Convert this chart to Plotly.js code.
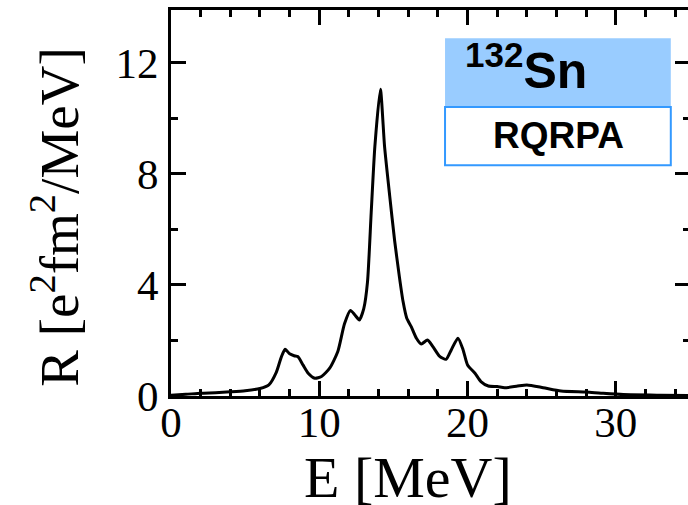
<!DOCTYPE html>
<html>
<head>
<meta charset="utf-8">
<script src="https://cdn.plot.ly/plotly-3.0.1.min.js"></script>
<style>
  html, body { margin: 0; padding: 0; background: #fff; overflow: hidden; }
  #chart { width: 700px; height: 505px; }
</style>
</head>
<body>
<div id="chart"></div>
<script>
// Strength function of 132Sn (RQRPA), energy in MeV
const energy = [0.0, 1.0, 2.0, 3.0, 4.0, 5.0, 6.0, 6.6, 7.1, 7.45, 7.7, 8.0, 8.3, 8.55, 8.9,
  9.25, 9.7, 10.15, 10.7, 11.25, 11.7, 12.1, 12.4, 12.7, 13.0, 13.25, 13.5, 13.75, 14.12,
  14.4, 14.75, 15.08, 15.4, 15.65, 15.9, 16.2, 16.55, 16.88, 17.3, 17.66, 18.1, 18.55,
  18.9, 19.35, 19.7, 20.0, 20.5, 20.9, 21.4, 22.0, 22.5, 23.3, 24.0, 25.1, 26.3, 28.0,
  29.0, 30.5, 33.0, 35.0];
const strength = [0.03, 0.06, 0.1, 0.12, 0.15, 0.19, 0.27, 0.4, 0.85, 1.42, 1.68, 1.52, 1.45, 1.42, 1.12,
  0.82, 0.64, 0.7, 1.0, 1.6, 2.6, 3.08, 2.92, 2.74, 3.15, 4.1, 6.6, 9.0, 11.05,
  9.0, 7.2, 5.6, 4.3, 3.4, 2.8, 2.5, 2.08, 1.87, 2.02, 1.78, 1.44, 1.32,
  1.66, 2.08, 1.66, 1.12, 0.82, 0.52, 0.36, 0.34, 0.3, 0.35, 0.4, 0.3, 0.18, 0.14,
  0.1, 0.05, 0.03, 0.02];

const xTicks = [0, 10, 20, 30];
const yTicks = [0, 4, 8, 12];

const nucleus = '<sup>132</sup>Sn';
const model = 'RQRPA';

const serif = 'Liberation Serif, Times New Roman, serif';
const sans = 'Liberation Sans, Arial, sans-serif';

const axisCommon = {
  showline: true,
  linecolor: '#000',
  linewidth: 3,
  mirror: 'allticks',
  ticks: 'inside',
  ticklen: 15,
  tickwidth: 3,
  tickcolor: '#000',
  showgrid: false,
  zeroline: false,
  tickfont: { family: serif, size: 43, color: '#000' },
  fixedrange: true
};

const layout = {
  width: 700,
  height: 505,
  margin: { l: 171, r: 10, t: 10, b: 109 },
  paper_bgcolor: '#fff',
  plot_bgcolor: '#fff',
  showlegend: false,
  xaxis: Object.assign({}, axisCommon, {
    range: [0, 35],
    tickmode: 'array',
    tickvals: xTicks,
    ticktext: xTicks.map(String),
    ticklabelstandoff: -14,
    minor: { dtick: 2, ticks: 'inside', ticklen: 7, tickwidth: 3, tickcolor: '#000', showgrid: false }
  }),
  yaxis: Object.assign({}, axisCommon, {
    range: [0, 13.9],
    tickmode: 'array',
    tickvals: yTicks,
    ticktext: yTicks.map(String),
    ticklabelstandoff: 1,
    minor: { dtick: 2, ticks: 'inside', ticklen: 7, tickwidth: 3, tickcolor: '#000', showgrid: false }
  }),
  shapes: [
    { type: 'rect', xref: 'paper', yref: 'paper', x0: 0.528, x1: 0.963, y0: 0.749, y1: 0.927,
      fillcolor: '#99CCFF', line: { width: 0 } },
    { type: 'rect', xref: 'paper', yref: 'paper', x0: 0.528, x1: 0.963, y0: 0.598, y1: 0.749,
      fillcolor: '#fff', line: { color: '#3399FF', width: 2 } }
  ],
  annotations: [
    { text: nucleus, xref: 'paper', yref: 'paper', x: 0.562, y: 0.852, xanchor: 'left', yanchor: 'middle',
      showarrow: false, font: { family: sans, size: 50, color: '#000', weight: 'bold' } },
    { text: model, xref: 'paper', yref: 'paper', x: 0.746, y: 0.676, xanchor: 'center', yanchor: 'middle',
      showarrow: false, font: { family: sans, size: 37, color: '#000', weight: 'bold' } },
    { text: 'E [MeV]', xref: 'paper', yref: 'paper', x: 0.457, y: -0.21, xanchor: 'center', yanchor: 'middle',
      showarrow: false, font: { family: serif, size: 58, color: '#000' } },
    { text: 'R [e<sup>2</sup>fm<sup>2</sup>/MeV]', xref: 'paper', yref: 'paper', x: -0.222, y: 0.464,
      xanchor: 'center', yanchor: 'middle', textangle: -90,
      showarrow: false, font: { family: serif, size: 55, color: '#000' } }
  ]
};

const trace = {
  x: energy,
  y: strength,
  type: 'scatter',
  mode: 'lines',
  line: { color: '#000', width: 3, shape: 'spline', smoothing: 0.6 },
  hoverinfo: 'skip'
};

Plotly.newPlot('chart', [trace], layout, { staticPlot: true, displayModeBar: false });
</script>
</body>
</html>
